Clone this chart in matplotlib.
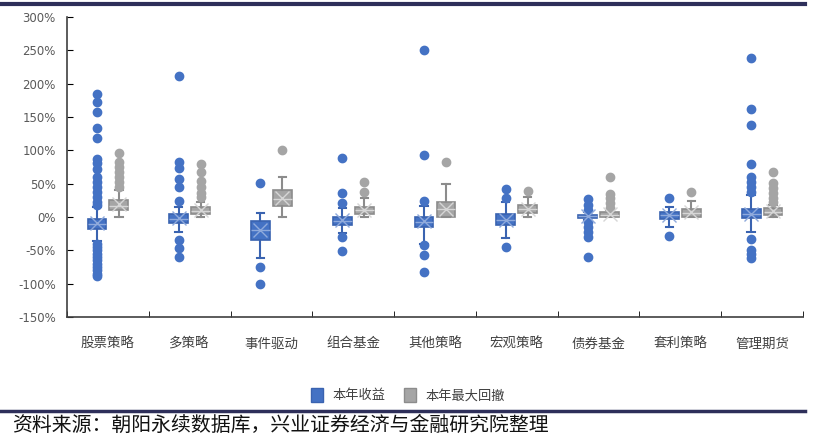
"""Box plot of hedge fund strategy returns and max drawdowns."""

import matplotlib
import matplotlib.pyplot as plt
from matplotlib.lines import Line2D
from matplotlib.patches import Patch
from matplotlib.ticker import FixedLocator, FuncFormatter

matplotlib.use("Agg")

plt.rcParams["font.family"] = ["Noto Sans CJK SC", "DejaVu Sans"]

categories = ["股票策略", "多策略", "事件驱动", "组合基金", "其他策略",
              "宏观策略", "债券基金", "套利策略", "管理期货"]

# 本年收益 (%)
ret_q1 = [-18, -9, -34, -12, -15, -12, -1, -3, -2]
ret_med = [-10, -3, -20, -6, -7, -4, 1, 3, 4]
ret_q3 = [-3, 4, -6, 0, 0, 4, 3, 8, 12]
ret_lo = [-36, -22, -61, -24, -40, -31, -5, -15, -23]
ret_hi = [15, 15, 6, 14, 17, 22, 8, 15, 33]
ret_mean = [-9, -2, -20, -5, -6, -4, 1, 3, 5]
ret_fliers = [
    [185, 172, 158, 133, 118, 87, 81, 72, 60, 52, 45, 37, 30, 22, 18,
     -40, -45, -50, -55, -60, -65, -70, -75, -80, -85, -89],
    [211, 82, 73, 57, 45, 24, -34, -47, -60],
    [51, -75, -100],
    [89, 36, 21, -30, -51],
    [250, 93, 24, -42, -57, -82],
    [42, 28, -45],
    [27, 18, 10, -8, -15, -22, -30, -60],
    [28, -28],
    [238, 162, 138, 80, 60, 52, 45, 38, -33, -49, -55, -61],
]

# 本年最大回撤 (%)
dd_q1 = [11, 4, 16, 4, 0, 6, 0, 0, 3]
dd_med = [17, 9, 27, 10, 12, 12, 3, 6, 8]
dd_q3 = [25, 15, 40, 15, 23, 18, 7, 12, 13]
dd_lo = [0, 0, 0, 0, 0, 0, 0, 0, 0]
dd_hi = [40, 22, 60, 28, 49, 30, 10, 24, 18]
dd_mean = [19, 11, 28, 10, 12, 12, 4, 7, 9]
dd_fliers = [
    [96, 82, 75, 67, 60, 52, 45],
    [79, 67, 54, 45, 36, 30],
    [100],
    [52, 37],
    [82],
    [39],
    [60, 35, 28, 21, 14],
    [37],
    [68, 51, 44, 36, 29, 22],
]

BLUE = "#4472C4"
BLUE_EDGE = "#3A63B0"
GRAY = "#A5A5A5"
GRAY_EDGE = "#8C8C8C"
NAVY = "#2E2F5A"


def make_stats(q1, med, q3, lo, hi, mean, fliers):
    return [
        dict(q1=a, med=b, q3=c, whislo=d, whishi=e, mean=f, fliers=g)
        for a, b, c, d, e, f, g in zip(q1, med, q3, lo, hi, mean, fliers)
    ]


def draw(ax, stats, positions, face, edge, light):
    ax.bxp(
        stats,
        positions=positions,
        widths=0.23,
        patch_artist=True,
        showmeans=True,
        boxprops=dict(facecolor=face, edgecolor=edge, linewidth=1.2),
        medianprops=dict(color=light, linewidth=1.0),
        whiskerprops=dict(color=edge, linewidth=1.5),
        capprops=dict(color=edge, linewidth=1.5),
        capwidths=0.09,
        flierprops=dict(marker="o", markersize=6, markerfacecolor=face,
                        markeredgecolor=face),
        meanprops=dict(marker="x", markersize=10, markeredgecolor=light,
                       markeredgewidth=1.0),
    )


fig = plt.figure(figsize=(8.16, 4.4), dpi=100)
ax = fig.add_axes([67 / 816, 1 - 317 / 440, (803 - 67) / 816, 300 / 440])

xs = list(range(len(categories)))
draw(ax, make_stats(ret_q1, ret_med, ret_q3, ret_lo, ret_hi, ret_mean, ret_fliers),
     [x - 0.134 for x in xs], BLUE, BLUE_EDGE, "#8FAADC")
draw(ax, make_stats(dd_q1, dd_med, dd_q3, dd_lo, dd_hi, dd_mean, dd_fliers),
     [x + 0.134 for x in xs], GRAY, GRAY_EDGE, "#D6D6D6")

ax.set_xlim(-0.5, len(categories) - 0.5)
ax.set_ylim(-150, 300)
ax.yaxis.set_major_locator(FixedLocator(range(-150, 301, 50)))
ax.yaxis.set_major_formatter(FuncFormatter(lambda v, _: f"{v:.0f}%"))
ax.tick_params(axis="y", direction="in", length=4, labelsize=8.5,
               labelcolor="#595959", pad=8)
for lab in ax.get_yticklabels():
    lab.set_family("DejaVu Sans")

ax.set_xticks(xs)
ax.set_xticklabels(categories)
ax.set_xticks([x - 0.5 for x in range(len(categories) + 1)], minor=True)
ax.tick_params(axis="x", which="major", length=0, labelsize=9.7,
               labelcolor="#404040", pad=14)
ax.tick_params(axis="x", which="minor", direction="in", length=4)

for side in ("top", "right"):
    ax.spines[side].set_visible(False)
for side in ("left", "bottom"):
    ax.spines[side].set_color("#404040")
    ax.spines[side].set_linewidth(1.2)

handles = [Patch(facecolor=BLUE, edgecolor=BLUE_EDGE, label="本年收益"),
           Patch(facecolor=GRAY, edgecolor=GRAY_EDGE, label="本年最大回撤")]
fig.legend(handles=handles, loc="center", bbox_to_anchor=(0.5, 1 - 395 / 440),
           ncol=2, frameon=False, fontsize=9.5, handlelength=0.9,
           handleheight=1.3, handletextpad=0.7, columnspacing=1.4,
           labelcolor="#404040")

fig.add_artist(Line2D([0, 805 / 816], [1 - 4 / 440] * 2, color=NAVY, lw=3))
fig.add_artist(Line2D([0, 805 / 816], [1 - 411 / 440] * 2, color=NAVY, lw=2.5))
fig.text(12 / 816, 1 - 425 / 440, "资料来源：朝阳永续数据库，兴业证券经济与金融研究院整理",
         fontsize=14.3, va="center", ha="left", color="#111111")

fig.savefig("out.png", dpi=100)
